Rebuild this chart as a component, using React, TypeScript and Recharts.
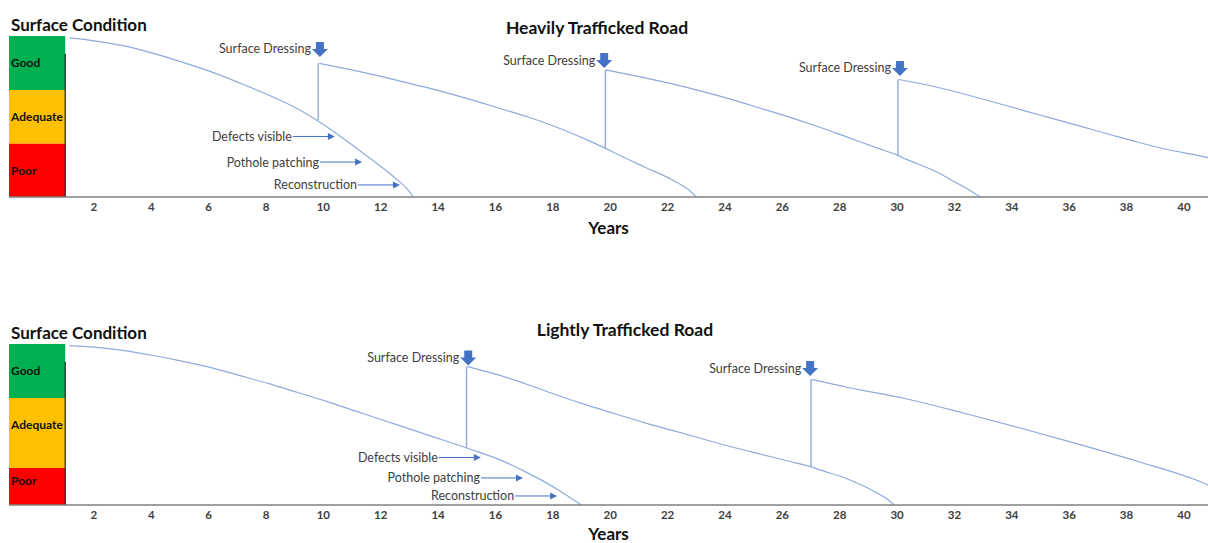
import React from "react";
import {
  ComposedChart,
  Line,
  Scatter,
  XAxis,
  YAxis,
  ReferenceArea,
  ReferenceLine,
} from "recharts";

const FONT = "Lato, 'Open Sans', sans-serif";
const CURVE = "#8FAADC";
const MARK = "#4472C4";
const TEXT = "#404040";

// x runs in years; the left end of the domain is the column that holds the condition key
const X_DOMAIN: [number, number] = [-0.96, 40.84];
const YEAR_TICKS = [2, 4, 6, 8, 10, 12, 14, 16, 18, 20, 22, 24, 26, 28, 30, 32, 34, 36, 38, 40];

const BAND_LABELS = ["Good", "Adequate", "Poor"];
const BAND_COLORS: Record<string, string> = { Good: "#00B050", Adequate: "#FFC000", Poor: "#FF0000" };
const CALLOUT_LABELS = ["Defects visible", "Pothole patching", "Reconstruction"];

// ---- Heavily trafficked road ----
const heavyBandEdges = [100, 66.5, 33, 0];
const heavyKeyLineTop = 89;

const heavyYears1 = [1.15, 2.0, 3.01, 4.02, 5.03, 6.05, 7.06, 8.07, 9.08, 10.09, 11.1, 12.11, 12.62, 12.97, 13.13];
const heavyCond1 = [98.8, 97, 94, 89.5, 84, 78, 71, 63.5, 55, 44, 31, 17.5, 10, 4, 0];
const heavyYears2 = [9.86, 11.1, 12.11, 13.13, 14.14, 15.15, 16.16, 17.17, 18.18, 19.19, 19.8, 20.2, 21.21, 22.23, 22.73, 23.0];
const heavyCond2 = [83, 78.5, 74.5, 70, 65.5, 60.5, 55, 49.5, 43, 35.5, 30.5, 27, 18.5, 10, 4.5, 0];
const heavyYears3 = [19.85, 21.21, 22.23, 23.24, 24.25, 25.26, 26.27, 27.28, 28.29, 29.3, 30.01, 30.31, 31.33, 32.0, 32.5, 32.9];
const heavyCond3 = [79, 74, 70, 65.5, 60.5, 55, 49.5, 43.5, 37, 30.5, 26, 23.5, 16, 9.5, 4.5, 0];
const heavyYears4 = [30.06, 31.33, 32.34, 33.35, 34.36, 35.37, 36.38, 37.39, 38.4, 39.42, 40.43, 40.84];
const heavyCond4 = [73, 68.5, 64, 59, 54, 49, 44, 39, 34, 29.5, 26, 24.5];

const heavyJumpYears = [9.82, 19.83, 30.03];
const heavyJumpFrom = [47.5, 30, 26];
const heavyJumpTo = [83, 79, 73];

const heavyDressYears = [9.88, 19.79, 30.1];
const heavyDressCond = [87, 80.1, 75.2];

const heavyCalloutYears = [10.4, 11.35, 12.67];
const heavyCalloutCond = [37.6, 21.7, 7.5];

// ---- Lightly trafficked road ----
const lightBandEdges = [100, 66.5, 23, 0];
const lightKeyLineTop = 89;

const lightYears1 = [1.15, 2.0, 3.01, 4.02, 5.03, 6.05, 7.06, 8.07, 9.08, 10.09, 11.1, 12.11, 13.13, 14.14, 15.15, 16.16, 17.17, 18.18, 18.69, 18.99];
const lightCond1 = [99, 98, 96, 93, 89.5, 85.5, 80.5, 75.5, 70, 64.5, 58.5, 52.5, 46.5, 40.5, 34.5, 28, 19.5, 9.5, 3.5, 0];
const lightYears2 = [15.02, 16.16, 17.17, 18.18, 19.19, 20.2, 21.21, 22.23, 23.24, 24.25, 25.26, 26.27, 26.98, 27.28, 28.29, 29.3, 29.71, 29.9];
const lightCond2 = [86, 80.5, 74.5, 68, 62, 56.5, 51, 46, 41, 36, 31.5, 27, 23.8, 22, 16, 7.5, 3, 0];
const lightYears3 = [27.03, 28.29, 30.31, 32.34, 34.36, 36.38, 38.4, 40.43, 40.84];
const lightCond3 = [78, 73, 66, 57, 47.5, 37.5, 27, 15.5, 12.5];

const lightJumpYears = [14.99, 27.0];
const lightJumpFrom = [35.5, 23.8];
const lightJumpTo = [86, 78];

const lightDressYears = [15.05, 26.97];
const lightDressCond = [86.6, 80.1];

const lightCalloutYears = [15.49, 16.96, 18.15];
const lightCalloutCond = [29.5, 16.8, 5.6];

const zip = (xs: number[], ys: number[]) => xs.map((x, i) => ({ x, y: ys[i] }));

function DressingArrow(props: any) {
  const { cx, cy } = props;
  if (cx == null || cy == null) return <g />;
  const d = `M${cx - 4},${cy - 15} L${cx + 4},${cy - 15} L${cx + 4},${cy - 8} L${cx + 8},${cy - 8} L${cx},${cy} L${cx - 8},${cy - 8} L${cx - 4},${cy - 8} Z`;
  return (
    <g>
      <text
        x={cx - 9}
        y={cy - 8}
        textAnchor="end"
        dominantBaseline="central"
        fontSize={12.5}
        fontFamily={FONT}
        fill={TEXT}
      >
        Surface Dressing
      </text>
      <path d={d} fill={MARK} />
    </g>
  );
}

function CalloutArrow(props: any) {
  const { cx, cy, payload } = props;
  if (cx == null || cy == null) return <g />;
  const start = cx - 42;
  return (
    <g>
      <text
        x={start - 1}
        y={cy}
        textAnchor="end"
        dominantBaseline="central"
        fontSize={12.5}
        fontFamily={FONT}
        fill={TEXT}
      >
        {payload?.label}
      </text>
      <line x1={start} y1={cy} x2={cx - 6} y2={cy} stroke={MARK} strokeWidth={1} />
      <path d={`M${cx - 7},${cy - 3.5} L${cx},${cy} L${cx - 7},${cy + 3.5} Z`} fill={MARK} />
    </g>
  );
}

type RoadProps = {
  top: number;
  height: number;
  margin: { top: number; right: number; bottom: number; left: number };
  axisHeight: number;
  yearsOffset: number;
  title: string;
  titleX: number;
  titleY: number;
  headY: number;
  bandEdges: number[];
  bandLabelShift: number[];
  keyLineTop: number;
  curves: { x: number; y: number }[][];
  jumps: { x: number; from: number; to: number }[];
  dressings: { x: number; y: number }[];
  callouts: { x: number; y: number; label: string }[];
};

function RoadChart(p: RoadProps) {
  return (
    <div style={{ position: "absolute", left: 0, top: p.top, width: 1208, height: p.height }}>
      <div
        style={{
          position: "absolute",
          left: 11,
          top: p.headY,
          transform: "translateY(-50%)",
          fontFamily: FONT,
          fontWeight: 700,
          fontSize: 17,
          color: "#111",
          whiteSpace: "nowrap",
        }}
      >
        Surface Condition
      </div>
      <div
        style={{
          position: "absolute",
          left: p.titleX,
          top: p.titleY,
          transform: "translate(-50%, -50%)",
          fontFamily: FONT,
          fontWeight: 700,
          fontSize: 17.5,
          color: "#111",
          whiteSpace: "nowrap",
        }}
      >
        {p.title}
      </div>
      <ComposedChart width={1208} height={p.height} margin={p.margin}>
        <XAxis
          type="number"
          dataKey="x"
          domain={X_DOMAIN}
          allowDataOverflow
          ticks={YEAR_TICKS}
          interval={0}
          height={p.axisHeight}
          tickLine={false}
          tickSize={5}
          tickMargin={1}
          axisLine={{ stroke: "#7F7F7F", strokeWidth: 1.5 }}
          tick={{ fill: TEXT, fontSize: 11.5, fontWeight: 700, fontFamily: FONT }}
          label={{
            value: "Years",
            position: "insideBottom",
            offset: p.yearsOffset,
            fill: "#111",
            fontSize: 17,
            fontWeight: 700,
            fontFamily: FONT,
          }}
        />
        <YAxis type="number" dataKey="y" domain={[0, 100]} hide />
        {BAND_LABELS.map((b, i) => (
          <ReferenceArea
            key={b}
            x1={X_DOMAIN[0]}
            x2={1}
            y1={p.bandEdges[i + 1]}
            y2={p.bandEdges[i]}
            fill={BAND_COLORS[b]}
            fillOpacity={1}
            stroke="none"
            label={{
              value: b,
              position: "insideLeft",
              offset: 2,
              dy: p.bandLabelShift[i],
              fill: "#111",
              fontSize: 12,
              fontWeight: 700,
              fontFamily: FONT,
            }}
          />
        ))}
        <ReferenceLine
          segment={[
            { x: 1, y: 0 },
            { x: 1, y: p.keyLineTop },
          ]}
          stroke="#222"
          strokeWidth={1.2}
        />
        {p.curves.map((c, i) => (
          <Line
            key={"c" + i}
            data={c}
            dataKey="y"
            type="monotone"
            stroke={CURVE}
            strokeWidth={1.2}
            dot={false}
            activeDot={false}
            isAnimationActive={false}
          />
        ))}
        {p.jumps.map((j, i) => (
          <Line
            key={"j" + i}
            data={[
              { x: j.x, y: j.from },
              { x: j.x, y: j.to },
            ]}
            dataKey="y"
            type="linear"
            stroke={CURVE}
            strokeWidth={1.4}
            dot={false}
            activeDot={false}
            isAnimationActive={false}
          />
        ))}
        <Scatter data={p.dressings} dataKey="y" shape={DressingArrow} isAnimationActive={false} />
        <Scatter data={p.callouts} dataKey="y" shape={CalloutArrow} isAnimationActive={false} />
      </ComposedChart>
    </div>
  );
}

export default function App() {
  const heavyCurves = [
    zip(heavyYears1, heavyCond1),
    zip(heavyYears2, heavyCond2),
    zip(heavyYears3, heavyCond3),
    zip(heavyYears4, heavyCond4),
  ];
  const lightCurves = [zip(lightYears1, lightCond1), zip(lightYears2, lightCond2), zip(lightYears3, lightCond3)];
  const heavyJumps = heavyJumpYears.map((x, i) => ({ x, from: heavyJumpFrom[i], to: heavyJumpTo[i] }));
  const lightJumps = lightJumpYears.map((x, i) => ({ x, from: lightJumpFrom[i], to: lightJumpTo[i] }));
  const heavyCallouts = heavyCalloutYears.map((x, i) => ({ x, y: heavyCalloutCond[i], label: CALLOUT_LABELS[i] }));
  const lightCallouts = lightCalloutYears.map((x, i) => ({ x, y: lightCalloutCond[i], label: CALLOUT_LABELS[i] }));

  return (
    <div
      style={{
        position: "absolute",
        left: 0,
        top: 0,
        width: 1208,
        height: 543,
        background: "#fff",
        overflow: "hidden",
      }}
    >
      <RoadChart
        top={0}
        height={270}
        margin={{ top: 36, right: 0, bottom: 33, left: 9 }}
        axisHeight={40}
        yearsOffset={3}
        title="Heavily Trafficked Road"
        titleX={597}
        titleY={27}
        headY={24}
        bandEdges={heavyBandEdges}
        bandLabelShift={[0, 0, 0]}
        keyLineTop={heavyKeyLineTop}
        curves={heavyCurves}
        jumps={heavyJumps}
        dressings={zip(heavyDressYears, heavyDressCond)}
        callouts={heavyCallouts}
      />
      <RoadChart
        top={300}
        height={243}
        margin={{ top: 44, right: 0, bottom: 0, left: 9 }}
        axisHeight={38}
        yearsOffset={3.5}
        title="Lightly Trafficked Road"
        titleX={625}
        titleY={29}
        headY={32}
        bandEdges={lightBandEdges}
        bandLabelShift={[0, -8, -6]}
        keyLineTop={lightKeyLineTop}
        curves={lightCurves}
        jumps={lightJumps}
        dressings={zip(lightDressYears, lightDressCond)}
        callouts={lightCallouts}
      />
    </div>
  );
}
